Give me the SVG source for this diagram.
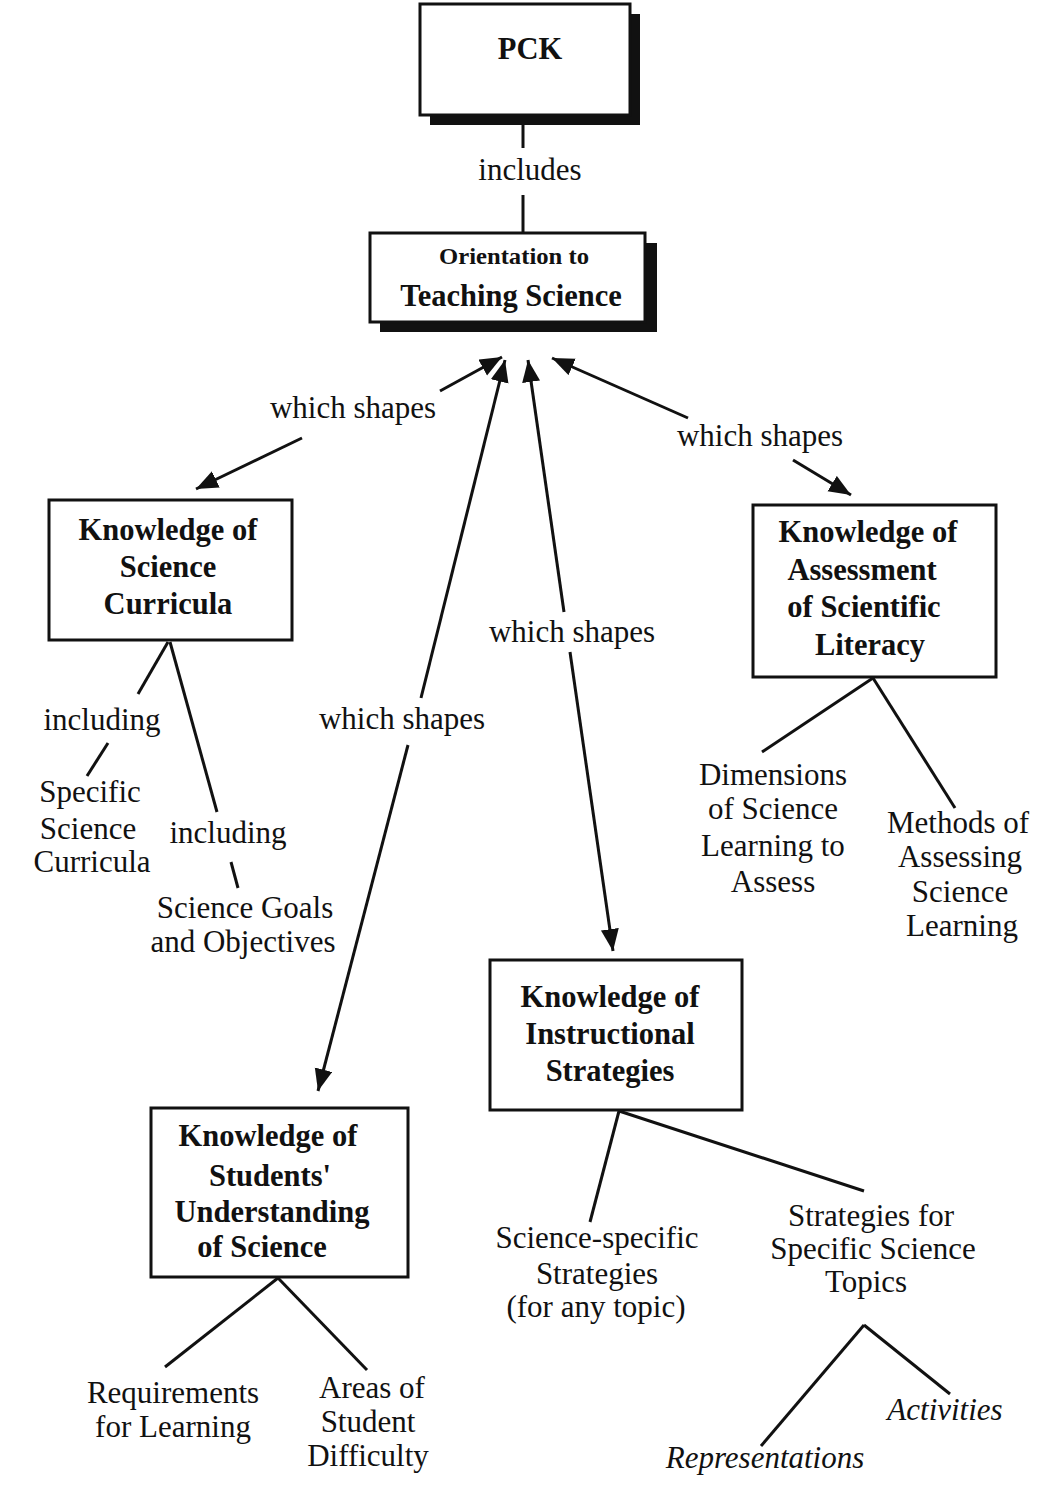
<svg xmlns="http://www.w3.org/2000/svg" width="1039" height="1499" viewBox="0 0 1039 1499">
<style>
.box{fill:#fff;stroke:#111;stroke-width:3}
.sh{fill:#111}
.t{font-family:"Liberation Serif","Times New Roman",serif;font-size:31px;fill:#111;text-anchor:middle}
.b{font-weight:bold;font-size:30.5px}
.i{font-style:italic}
.ln{stroke:#111;stroke-width:3;fill:none}
</style>
<defs>
<marker id="ah" markerUnits="userSpaceOnUse" markerWidth="24" markerHeight="20" refX="22" refY="9" orient="auto">
<path d="M0,0 L22,9 L0,18 Z" fill="#111"/>
</marker>
</defs>
<rect width="1039" height="1499" fill="#fff"/>
<g id="connectors">
<line class="ln" x1="523" y1="125" x2="523" y2="148"/>
<line class="ln" x1="523" y1="195" x2="523" y2="233"/>
<line class="ln" x1="440" y1="391" x2="502" y2="357" marker-end="url(#ah)"/>
<line class="ln" x1="302" y1="438" x2="196" y2="489" marker-end="url(#ah)"/>
<line class="ln" x1="688" y1="418" x2="552" y2="358" marker-end="url(#ah)"/>
<line class="ln" x1="793" y1="460" x2="851" y2="495" marker-end="url(#ah)"/>
<line class="ln" x1="421" y1="698" x2="505" y2="360" marker-end="url(#ah)"/>
<line class="ln" x1="408" y1="745" x2="318" y2="1091" marker-end="url(#ah)"/>
<line class="ln" x1="564" y1="612" x2="528" y2="360" marker-end="url(#ah)"/>
<line class="ln" x1="570" y1="652" x2="613" y2="951" marker-end="url(#ah)"/>
<line class="ln" x1="168" y1="642" x2="138" y2="694"/>
<line class="ln" x1="108" y1="743" x2="87" y2="776"/>
<line class="ln" x1="170" y1="642" x2="217" y2="812"/>
<line class="ln" x1="231" y1="862" x2="238" y2="888"/>
<line class="ln" x1="873" y1="678" x2="762" y2="752"/>
<line class="ln" x1="873" y1="678" x2="955" y2="808"/>
<line class="ln" x1="278" y1="1278" x2="165" y2="1367"/>
<line class="ln" x1="278" y1="1278" x2="367" y2="1370"/>
<line class="ln" x1="619" y1="1111" x2="590" y2="1222"/>
<line class="ln" x1="619" y1="1111" x2="864" y2="1191"/>
<line class="ln" x1="864" y1="1325" x2="761" y2="1446"/>
<line class="ln" x1="864" y1="1325" x2="950" y2="1394"/>
</g>
<g id="pck">
<rect class="sh" x="430" y="14" width="210" height="111"/>
<rect class="box" x="420" y="4" width="210" height="111"/>
<text class="t b" x="530" y="59">PCK</text>
</g>
<g id="includes-label">
<text class="t" x="530" y="180">includes</text>
</g>
<g id="orientation">
<rect class="sh" x="380" y="243" width="277" height="89"/>
<rect class="box" x="370" y="233" width="275" height="89"/>
<text class="t b" x="514" y="264" style="font-size:23px" textLength="150" lengthAdjust="spacingAndGlyphs">Orientation to</text>
<text class="t b" x="511" y="306">Teaching Science</text>
</g>
<g id="labels">
<text class="t" x="353" y="418">which shapes</text>
<text class="t" x="760" y="446">which shapes</text>
<text class="t" x="572" y="642">which shapes</text>
<text class="t" x="402" y="729">which shapes</text>
<text class="t" x="102" y="730">including</text>
<text class="t" x="228" y="843">including</text>
</g>
<g id="curricula">
<rect class="box" x="49" y="500" width="243" height="140"/>
<text class="t b" x="168" y="540">Knowledge of</text>
<text class="t b" x="168" y="577">Science</text>
<text class="t b" x="168" y="614">Curricula</text>
</g>
<g id="specific-curricula">
<text class="t" x="90" y="802">Specific</text>
<text class="t" x="88" y="839">Science</text>
<text class="t" x="92" y="872">Curricula</text>
</g>
<g id="goals">
<text class="t" x="245" y="918">Science Goals</text>
<text class="t" x="243" y="952">and Objectives</text>
</g>
<g id="assessment">
<rect class="box" x="753" y="505" width="243" height="172"/>
<text class="t b" x="868" y="542">Knowledge of</text>
<text class="t b" x="862" y="580">Assessment</text>
<text class="t b" x="864" y="617">of Scientific</text>
<text class="t b" x="870" y="655">Literacy</text>
</g>
<g id="dimensions">
<text class="t" x="773" y="785">Dimensions</text>
<text class="t" x="773" y="819">of Science</text>
<text class="t" x="773" y="856">Learning to</text>
<text class="t" x="773" y="892">Assess</text>
</g>
<g id="methods">
<text class="t" x="958" y="833">Methods of</text>
<text class="t" x="960" y="867">Assessing</text>
<text class="t" x="960" y="902">Science</text>
<text class="t" x="962" y="936">Learning</text>
</g>
<g id="instructional">
<rect class="box" x="490" y="960" width="252" height="150"/>
<text class="t b" x="610" y="1007">Knowledge of</text>
<text class="t b" x="610" y="1044">Instructional</text>
<text class="t b" x="610" y="1081">Strategies</text>
</g>
<g id="students">
<rect class="box" x="151" y="1108" width="257" height="169"/>
<text class="t b" x="268" y="1146">Knowledge of</text>
<text class="t b" x="270" y="1186">Students'</text>
<text class="t b" x="272" y="1222">Understanding</text>
<text class="t b" x="262" y="1257">of Science</text>
</g>
<g id="requirements">
<text class="t" x="173" y="1403">Requirements</text>
<text class="t" x="173" y="1437">for Learning</text>
</g>
<g id="areas">
<text class="t" x="372" y="1398">Areas of</text>
<text class="t" x="368" y="1432">Student</text>
<text class="t" x="368" y="1466">Difficulty</text>
</g>
<g id="science-specific">
<text class="t" x="597" y="1248">Science-specific</text>
<text class="t" x="597" y="1284">Strategies</text>
<text class="t" x="596" y="1317">(for any topic)</text>
</g>
<g id="topics">
<text class="t" x="871" y="1226">Strategies for</text>
<text class="t" x="873" y="1259">Specific Science</text>
<text class="t" x="866" y="1292">Topics</text>
</g>
<g id="activities">
<text class="t i" x="945" y="1420">Activities</text>
</g>
<g id="representations">
<text class="t i" x="765" y="1468">Representations</text>
</g>
</svg>
